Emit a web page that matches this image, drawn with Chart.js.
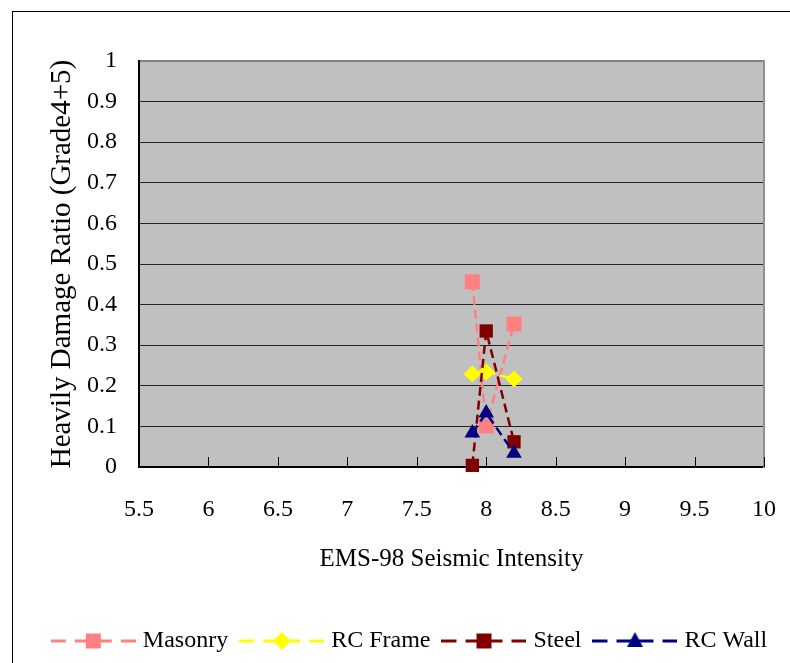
<!DOCTYPE html>
<html>
<head>
<meta charset="utf-8">
<script src="https://cdn.jsdelivr.net/npm/chart.js@4.4.1/dist/chart.umd.min.js"></script>
<style>
  html, body { margin: 0; padding: 0; background: #fff; }
  #wrap { position: relative; width: 790px; height: 663px; }
</style>
</head>
<body>
<div id="wrap"><canvas id="damageChart" width="790" height="663"></canvas></div>
<script>
// Heavily damaged ratio (grade 4+5) per building type vs EMS-98 intensity
const intensities = [7.9, 8.0, 8.2];
const masonry = [0.456, 0.101, 0.352];
const rcFrame = [0.229, 0.234, 0.217];
const steel = [0.004, 0.335, 0.062];
const rcWall = [0.084, 0.133, 0.034];

const seriesNames = ['Masonry', 'RC Frame', 'Steel', 'RC Wall'];
const seriesColors = ['#ff8080', '#ffff00', '#800000', '#000080'];

const xTicks = [5.5, 6, 6.5, 7, 7.5, 8, 8.5, 9, 9.5, 10];
const yTicks = [0, 0.1, 0.2, 0.3, 0.4, 0.5, 0.6, 0.7, 0.8, 0.9, 1];

const SERIF = "'Liberation Serif', 'Times New Roman', serif";
Chart.defaults.font.family = SERIF;
Chart.defaults.font.size = 24;
Chart.defaults.color = '#000';

const toPoints = (values) => intensities.map((x, i) => ({ x: x, y: values[i] }));

// Draw a marker shape centred at (cx, cy)
const drawMarker = (ctx, style, cx, cy, color) => {
    ctx.fillStyle = color;
    ctx.beginPath();
    if (style === 'rect') {
        ctx.rect(cx - 7.5, cy - 7.5, 15, 15);
    } else if (style === 'rectRot') {
        ctx.moveTo(cx, cy - 9); ctx.lineTo(cx + 9, cy); ctx.lineTo(cx, cy + 9); ctx.lineTo(cx - 9, cy);
    } else {
        ctx.moveTo(cx, cy - 9); ctx.lineTo(cx + 8, cy + 6); ctx.lineTo(cx - 8, cy + 6);
    }
    ctx.closePath();
    ctx.fill();
};

// Legend icons: dashed line with the marker in the middle
const markerStyles = ['rect', 'rectRot', 'rect', 'triangle'];
const legendIcons = seriesColors.map((color, i) => {
    const c = document.createElement('canvas');
    c.width = 85; c.height = 24;
    const g = c.getContext('2d');
    g.strokeStyle = color;
    g.lineWidth = 3;
    [[0, 15], [24, 61], [70, 85]].forEach(([a, b]) => {
        g.beginPath(); g.moveTo(a, 12); g.lineTo(b, 12); g.stroke();
    });
    drawMarker(g, markerStyles[i], 42.5, 12, color);
    return c;
});

const plotFrame = {
    id: 'plotFrame',
    beforeDraw(chart) {
        const { ctx, chartArea: a } = chart;
        ctx.save();
        ctx.strokeStyle = '#000';
        ctx.lineWidth = 1;
        ctx.strokeRect(12.5, 11.5, 900, 900);
        ctx.fillStyle = '#c0c0c0';
        ctx.fillRect(a.left, a.top, a.right - a.left, a.bottom - a.top);
        ctx.restore();
    },
    beforeDatasetsDraw(chart) {
        // short tick marks pointing up into the plot
        const { ctx, chartArea: a, scales: { x } } = chart;
        ctx.save();
        ctx.strokeStyle = '#000';
        ctx.lineWidth = 1;
        x.ticks.forEach(t => {
            const px = Math.round(x.getPixelForValue(t.value)) + 0.5;
            ctx.beginPath();
            ctx.moveTo(px, a.bottom);
            ctx.lineTo(px, a.bottom - 10);
            ctx.stroke();
        });
        ctx.restore();
    }
};

const makeDataset = (i, values, radius, order) => ({
    label: seriesNames[i],
    data: toPoints(values),
    borderColor: seriesColors[i],
    backgroundColor: seriesColors[i],
    borderWidth: 2.5,
    borderDash: [9, 5],
    pointStyle: markerStyles[i],
    pointRadius: radius,
    pointBorderWidth: 0,
    pointBackgroundColor: seriesColors[i],
    tension: 0,
    clip: false,
    order: order
});

const ctx = document.getElementById('damageChart').getContext('2d');
const chart = new Chart(ctx, {
    type: 'line',
    data: {
        datasets: [
            makeDataset(0, masonry, 10.6, 4),
            makeDataset(1, rcFrame, 8.5, 3),
            makeDataset(2, steel, 9.4, 2),
            makeDataset(3, rcWall, 9, 1)
        ]
    },
    options: {
        responsive: false,
        animation: false,
        layout: { padding: { top: 61, right: 0, left: 33, bottom: 0 } },
        plugins: {
            tooltip: { enabled: false },
            legend: {
                position: 'bottom',
                align: 'center',
                labels: {
                    usePointStyle: true,
                    pointStyleWidth: 75,
                    boxHeight: 24,
                    padding: 16,
                    color: '#000',
                    font: { family: SERIF, size: 24 },
                    generateLabels(chart) {
                        const items = Chart.defaults.plugins.legend.labels.generateLabels(chart);
                        items.sort((a, b) => a.datasetIndex - b.datasetIndex);
                        items.forEach(it => { it.pointStyle = legendIcons[it.datasetIndex]; });
                        return items;
                    }
                }
            }
        },
        scales: {
            x: {
                type: 'linear',
                min: 5.5,
                max: 10,
                afterBuildTicks: (scale) => { scale.ticks = xTicks.map(v => ({ value: v })); },
                afterFit: (scale) => { scale.height = 146; },
                ticks: {
                    padding: 0,
                    color: '#000',
                    callback: (v) => String(v),
                    font: { family: SERIF, size: 24, lineHeight: 3.53 }
                },
                grid: { drawOnChartArea: false, drawTicks: false },
                border: { color: '#000', width: 2 },
                title: {
                    display: true,
                    text: 'EMS-98 Seismic Intensity',
                    color: '#000',
                    font: { family: SERIF, size: 25 },
                    padding: { top: 0, bottom: 39 }
                }
            },
            y: {
                type: 'linear',
                min: 0,
                max: 1,
                afterBuildTicks: (scale) => { scale.ticks = yTicks.map(v => ({ value: v })); },
                afterFit: (scale) => { scale.width = 106; },
                ticks: {
                    padding: 22,
                    color: '#000',
                    callback: (v) => String(v),
                    font: { family: SERIF, size: 24 }
                },
                grid: {
                    drawTicks: false,
                    color: (c) => (c.tick && c.tick.value === 1 ? '#808080' : '#222'),
                    lineWidth: (c) => (c.tick && c.tick.value === 1 ? 2 : 1)
                },
                border: { color: '#000', width: 2 },
                title: {
                    display: true,
                    text: 'Heavily Damage Ratio (Grade4+5)',
                    color: '#000',
                    font: { family: SERIF, size: 29, lineHeight: 1.2 },
                    padding: { top: 12, bottom: 0 }
                }
            },
            // right edge of the plot frame
            yRight: {
                type: 'linear',
                position: 'right',
                min: 0,
                max: 1,
                afterFit: (scale) => { scale.width = 26; },
                ticks: { display: false },
                grid: { display: false, drawTicks: false },
                border: { color: '#909090', width: 2 }
            }
        }
    },
    plugins: [plotFrame]
});
</script>
</body>
</html>
